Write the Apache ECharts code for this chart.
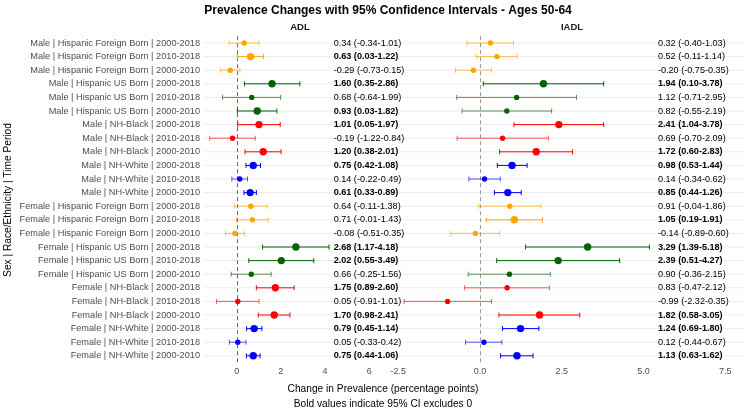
<!DOCTYPE html>
<html>
<head>
<meta charset="utf-8">
<script src="https://cdn.jsdelivr.net/npm/echarts@6/dist/echarts.min.js"></script>
<style>
  html, body { margin: 0; padding: 0; background: #fff; }
  #chart { width: 750px; height: 411px; }
</style>
</head>
<body>
<div id="chart"></div>
<script>
// rows, top to bottom
const categories = [
  "Male | Hispanic Foreign Born | 2000-2018",
  "Male | Hispanic Foreign Born | 2010-2018",
  "Male | Hispanic Foreign Born | 2000-2010",
  "Male | Hispanic US Born | 2000-2018",
  "Male | Hispanic US Born | 2010-2018",
  "Male | Hispanic US Born | 2000-2010",
  "Male | NH-Black | 2000-2018",
  "Male | NH-Black | 2010-2018",
  "Male | NH-Black | 2000-2010",
  "Male | NH-White | 2000-2018",
  "Male | NH-White | 2010-2018",
  "Male | NH-White | 2000-2010",
  "Female | Hispanic Foreign Born | 2000-2018",
  "Female | Hispanic Foreign Born | 2010-2018",
  "Female | Hispanic Foreign Born | 2000-2010",
  "Female | Hispanic US Born | 2000-2018",
  "Female | Hispanic US Born | 2010-2018",
  "Female | Hispanic US Born | 2000-2010",
  "Female | NH-Black | 2000-2018",
  "Female | NH-Black | 2010-2018",
  "Female | NH-Black | 2000-2010",
  "Female | NH-White | 2000-2018",
  "Female | NH-White | 2010-2018",
  "Female | NH-White | 2000-2010"
];

const adlEst  = [0.34, 0.63, -0.29, 1.60, 0.68, 0.93, 1.01, -0.19, 1.20, 0.75, 0.14, 0.61,
                 0.64, 0.71, -0.08, 2.68, 2.02, 0.66, 1.75, 0.05, 1.70, 0.79, 0.05, 0.75];
const adlLow  = [-0.34, 0.03, -0.73, 0.35, -0.64, 0.03, 0.05, -1.22, 0.38, 0.42, -0.22, 0.33,
                 -0.11, -0.01, -0.51, 1.17, 0.55, -0.25, 0.89, -0.91, 0.98, 0.45, -0.33, 0.44];
const adlHigh = [1.01, 1.22, 0.15, 2.86, 1.99, 1.82, 1.97, 0.84, 2.01, 1.08, 0.49, 0.89,
                 1.38, 1.43, 0.35, 4.18, 3.49, 1.56, 2.60, 1.01, 2.41, 1.14, 0.42, 1.06];

const iadlEst  = [0.32, 0.52, -0.20, 1.94, 1.12, 0.82, 2.41, 0.69, 1.72, 0.98, 0.14, 0.85,
                  0.91, 1.05, -0.14, 3.29, 2.39, 0.90, 0.83, -0.99, 1.82, 1.24, 0.12, 1.13];
const iadlLow  = [-0.40, -0.11, -0.75, 0.10, -0.71, -0.55, 1.04, -0.70, 0.60, 0.53, -0.34, 0.44,
                  -0.04, 0.19, -0.89, 1.39, 0.51, -0.36, -0.47, -2.32, 0.58, 0.69, -0.44, 0.63];
const iadlHigh = [1.03, 1.14, 0.35, 3.78, 2.95, 2.19, 3.78, 2.09, 2.83, 1.44, 0.62, 1.26,
                  1.86, 1.91, 0.60, 5.18, 4.27, 2.15, 2.12, 0.35, 3.05, 1.80, 0.67, 1.62];

const adlTicks = [0, 2, 4, 6];
const iadlTicks = [-2.5, 0, 2.5, 5, 7.5];

const groupColors = {
  "Hispanic Foreign Born": "#FFA500",
  "Hispanic US Born": "#006400",
  "NH-Black": "#FF0000",
  "NH-White": "#0000FF"
};

const FONT = "Liberation Sans, Arial, sans-serif";
const rowColor = i => groupColors[categories[i].split(" | ")[1]];
const isSig = (lo, hi) => (lo > 0 || hi < 0) ? 1 : 0;
const fmt = v => v.toFixed(2);

function panelSeries(gi, est, low, high, zeroColor) {
  const rows = est.map((e, i) => [low[i], high[i], e, i, isSig(low[i], high[i])]);
  const labelX = Math.max(...high) * 1.05;
  const labels = est.map((e, i) => [labelX, i, isSig(low[i], high[i])]);
  return [
    { // row grid lines
      type: "custom", xAxisIndex: gi, yAxisIndex: gi, silent: true, z: 1,
      data: categories.map((c, i) => [0, i]),
      encode: { x: 0, y: 1 },
      renderItem: (params, api) => {
        const cs = params.coordSys;
        const y = api.coord([0, api.value(1)])[1];
        return { type: "line", shape: { x1: cs.x, y1: y, x2: cs.x + cs.width, y2: y },
                 style: { stroke: "#ebebeb", lineWidth: 1 } };
      }
    },
    { // zero reference line
      type: "custom", xAxisIndex: gi, yAxisIndex: gi, silent: true, z: 2,
      data: [[0, 0]],
      encode: { x: 0, y: 1 },
      renderItem: (params, api) => {
        const cs = params.coordSys;
        const x = Math.round(api.coord([0, 0])[0]) + 0.5;
        return { type: "line", shape: { x1: x, y1: cs.y, x2: x, y2: cs.y + cs.height },
                 style: { stroke: zeroColor, lineWidth: 1, lineDash: [4, 3] } };
      }
    },
    { // error bars + points
      type: "custom", xAxisIndex: gi, yAxisIndex: gi, z: 3, clip: false,
      data: rows,
      encode: { x: [0, 1, 2], y: 3 },
      renderItem: (params, api) => {
        const r = api.value(3);
        const sig = api.value(4);
        const lo = api.coord([api.value(0), r]);
        const hi = api.coord([api.value(1), r]);
        const mid = api.coord([api.value(2), r]);
        const color = rowColor(params.dataIndex);
        const op = sig ? 1 : 0.65;
        const cap = 2.5;
        const ls = { stroke: color, lineWidth: 1, opacity: op };
        return {
          type: "group",
          children: [
            { type: "line", shape: { x1: lo[0], y1: lo[1], x2: hi[0], y2: hi[1] }, style: ls },
            { type: "line", shape: { x1: lo[0], y1: lo[1] - cap, x2: lo[0], y2: lo[1] + cap }, style: ls },
            { type: "line", shape: { x1: hi[0], y1: hi[1] - cap, x2: hi[0], y2: hi[1] + cap }, style: ls },
            { type: "circle", shape: { cx: mid[0], cy: mid[1], r: sig ? 3.7 : 2.7 }, style: { fill: color } }
          ]
        };
      }
    },
    { // value labels
      type: "custom", xAxisIndex: gi, yAxisIndex: gi, z: 4, clip: false, silent: true,
      data: labels,
      encode: { x: 0, y: 1 },
      renderItem: (params, api) => {
        const i = params.dataIndex;
        const p = api.coord([api.value(0), api.value(1)]);
        return {
          type: "text", x: p[0], y: p[1],
          style: {
            text: fmt(est[i]) + " (" + fmt(low[i]) + "-" + fmt(high[i]) + ")",
            fill: "#000", fontSize: 9.1, fontFamily: FONT,
            fontWeight: api.value(2) ? "bold" : "normal",
            align: "left", verticalAlign: "middle"
          }
        };
      }
    }
  ];
}

const gridTop = 36.2, gridH = 326.4;

const yAxisBase = {
  type: "category", data: categories, inverse: true,
  axisLine: { show: false }, axisTick: { show: false }, splitLine: { show: false }
};
const xAxisBase = {
  type: "value",
  axisLine: { show: false }, axisTick: { show: false }, splitLine: { show: false }
};

const option = {
  animation: false,
  backgroundColor: "#fff",
  title: [
    { text: "Prevalence Changes with 95% Confidence Intervals - Ages 50-64",
      left: 383, top: 0, textAlign: "center",
      textStyle: { fontSize: 12, fontWeight: "bold", color: "#000", fontFamily: FONT } },
    { text: "ADL", left: 295, top: 17, textAlign: "center",
      textStyle: { fontSize: 9.5, fontWeight: "bold", color: "#1a1a1a", fontFamily: FONT } },
    { text: "IADL", left: 567, top: 17, textAlign: "center",
      textStyle: { fontSize: 9.5, fontWeight: "bold", color: "#1a1a1a", fontFamily: FONT } }
  ],
  grid: [
    { left: 204, top: gridTop, width: 182, height: gridH },
    { left: 391, top: gridTop, width: 353, height: gridH }
  ],
  xAxis: [
    Object.assign({}, xAxisBase, {
      gridIndex: 0, min: -1.48, max: 6.76,
      axisLabel: { customValues: adlTicks, color: "#4d4d4d", fontSize: 9, margin: 4, fontFamily: FONT }
    }),
    Object.assign({}, xAxisBase, {
      gridIndex: 1, min: -2.72, max: 8.07,
      axisLabel: { customValues: iadlTicks, color: "#4d4d4d", fontSize: 9, margin: 4, fontFamily: FONT,
                   formatter: v => v.toFixed(1) }
    })
  ],
  yAxis: [
    Object.assign({}, yAxisBase, {
      gridIndex: 0,
      axisLabel: { color: "#4d4d4d", fontSize: 9.2, margin: 4, fontFamily: FONT }
    }),
    Object.assign({}, yAxisBase, { gridIndex: 1, axisLabel: { show: false } })
  ],
  graphic: [
    { type: "text", x: 8, y: 200, rotation: Math.PI / 2,
      style: { text: "Sex | Race/Ethnicity | Time Period", fill: "#000", fontSize: 10.2,
               fontFamily: FONT, align: "center", verticalAlign: "middle" } },
    { type: "text", x: 383, y: 389,
      style: { text: "Change in Prevalence (percentage points)", fill: "#000", fontSize: 10.2,
               fontFamily: FONT, align: "center", verticalAlign: "middle" } },
    { type: "text", x: 383, y: 404,
      style: { text: "Bold values indicate 95% CI excludes 0", fill: "#000", fontSize: 10.2,
               fontFamily: FONT, align: "center", verticalAlign: "middle" } }
  ],
  series: [].concat(
    panelSeries(0, adlEst, adlLow, adlHigh, "#666"),
    panelSeries(1, iadlEst, iadlLow, iadlHigh, "#999")
  )
};

const chart = echarts.init(document.getElementById("chart"));
chart.setOption(option);
</script>
</body>
</html>
